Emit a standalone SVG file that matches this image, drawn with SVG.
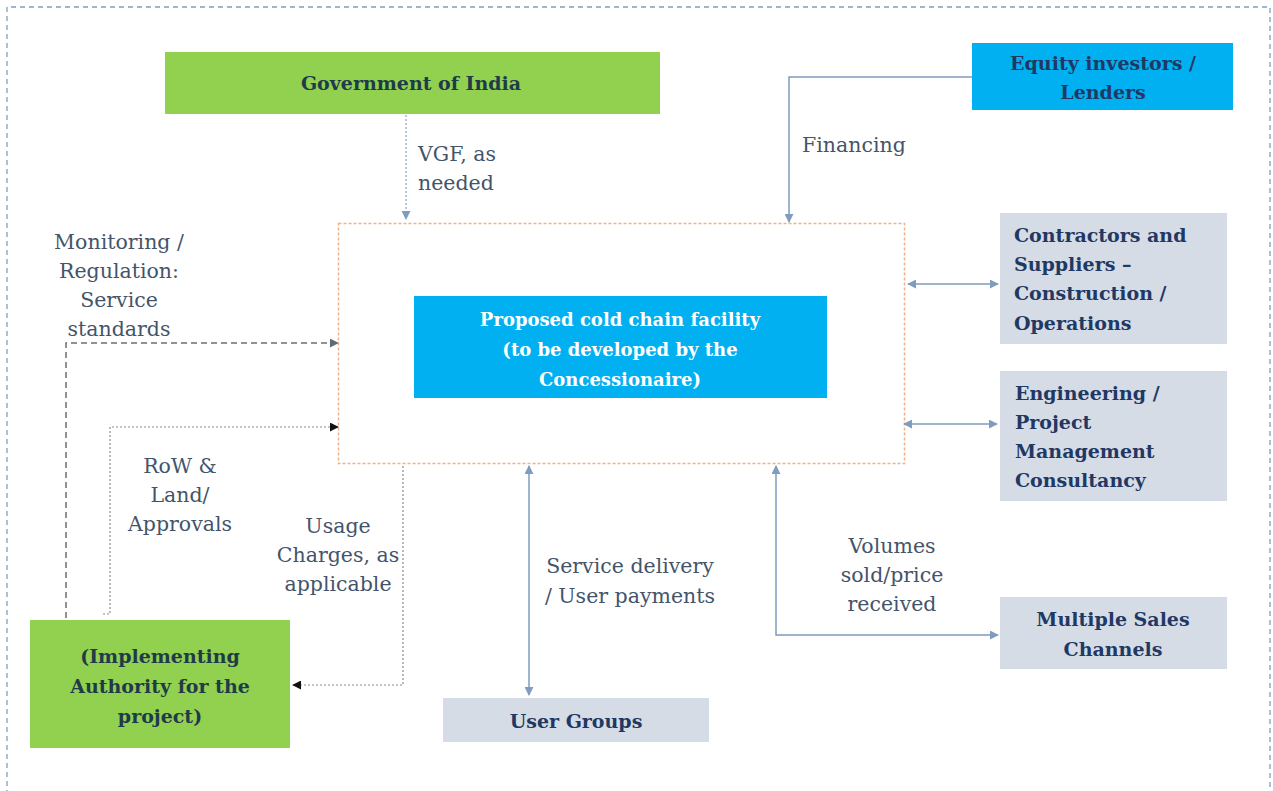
<svg xmlns="http://www.w3.org/2000/svg" width="1273" height="791" viewBox="0 0 1273 791">
  <style>
    .node-text { font-family: "DejaVu Serif", "Liberation Serif", serif; font-weight: bold; font-size: 19px; fill: #1f3864; }
    .green-text { fill: #1f3b4a; }
    .white-text { fill: #ffffff; font-size: 18px; }
    .label { font-family: "DejaVu Serif", "Liberation Serif", serif; font-size: 20.5px; fill: #44546a; }
    .green { fill: #92d050; }
    .blue { fill: #00b0f0; }
    .grey { fill: #d6dce5; }
    .link { fill: none; stroke: #7f9bbd; stroke-width: 1.5; }
    .link-dot { fill: none; stroke: #9fb4cf; stroke-width: 1.5; stroke-dasharray: 2,2; }
    .link-dash { fill: none; stroke: #6e6e6e; stroke-width: 1.5; stroke-dasharray: 6,4; }
    .link-fine { fill: none; stroke: #8a8a8a; stroke-width: 1.2; stroke-dasharray: 2,2; }
  </style>
  <defs>
    <marker id="arrowBlue" viewBox="0 0 10 10" refX="9" refY="5" markerWidth="9" markerHeight="9" orient="auto-start-reverse" markerUnits="userSpaceOnUse">
      <path d="M0,0 L10,5 L0,10 z" fill="#7f9bbd"/>
    </marker>
    <marker id="arrowGrey" viewBox="0 0 10 10" refX="9" refY="5" markerWidth="9" markerHeight="9" orient="auto" markerUnits="userSpaceOnUse">
      <path d="M0,0 L10,5 L0,10 z" fill="#5f6b78"/>
    </marker>
    <marker id="arrowBlack" viewBox="0 0 10 10" refX="9" refY="5" markerWidth="9" markerHeight="9" orient="auto" markerUnits="userSpaceOnUse">
      <path d="M0,0 L10,5 L0,10 z" fill="#111111"/>
    </marker>
  </defs>

  <rect width="1273" height="791" fill="#ffffff"/>

  <!-- outer frame -->
  <path d="M7,795 V7 H1270 V795" fill="none" stroke="#7f9fc4" stroke-width="1.3" stroke-dasharray="5,4"/>

  <!-- project boundary -->
  <rect x="338.5" y="223.5" width="566" height="240" fill="none" stroke="#f0b08a" stroke-width="1.5" stroke-dasharray="3,2"/>

  <g id="connectors">
    <!-- VGF -->
    <path class="link-dot" d="M406,115 V219" marker-end="url(#arrowBlue)"/>
    <!-- Financing -->
    <path class="link" d="M972,77 H789 V222" marker-end="url(#arrowBlue)"/>
    <!-- Contractors -->
    <path class="link" d="M908,284 H998" marker-start="url(#arrowBlue)" marker-end="url(#arrowBlue)"/>
    <!-- Engineering -->
    <path class="link" d="M904,424 H997" marker-start="url(#arrowBlue)" marker-end="url(#arrowBlue)"/>
    <!-- Service delivery -->
    <path class="link" d="M529,466 V695" marker-start="url(#arrowBlue)" marker-end="url(#arrowBlue)"/>
    <!-- Volumes -->
    <path class="link" d="M776,466 V635 H998" marker-start="url(#arrowBlue)" marker-end="url(#arrowBlue)"/>
    <!-- Monitoring -->
    <path class="link-dash" d="M66,618 V343 H338" marker-end="url(#arrowGrey)"/>
    <!-- RoW -->
    <path class="link-fine" d="M103,614 H110 V427 H338" marker-end="url(#arrowBlack)"/>
    <!-- Usage charges -->
    <path class="link-fine" d="M403,466 V685 H293" marker-end="url(#arrowBlack)"/>

    <text class="label" x="418" y="161">VGF, as</text>
    <text class="label" x="418" y="190">needed</text>
    <text class="label" x="802" y="152">Financing</text>
    <g text-anchor="middle">
      <text class="label" x="119" y="249">Monitoring /</text>
      <text class="label" x="119" y="278">Regulation:</text>
      <text class="label" x="119" y="307">Service</text>
      <text class="label" x="119" y="336">standards</text>
      <text class="label" x="180" y="473">RoW &amp;</text>
      <text class="label" x="180" y="502">Land/</text>
      <text class="label" x="180" y="531">Approvals</text>
      <text class="label" x="338" y="533">Usage</text>
      <text class="label" x="338" y="562">Charges, as</text>
      <text class="label" x="338" y="591">applicable</text>
      <text class="label" x="630" y="573">Service delivery</text>
      <text class="label" x="630" y="603">/ User payments</text>
      <text class="label" x="892" y="553">Volumes</text>
      <text class="label" x="892" y="582">sold/price</text>
      <text class="label" x="892" y="611">received</text>
    </g>
  </g>

  <g id="government">
    <rect class="green" x="165" y="52" width="495" height="62"/>
    <text class="node-text green-text" x="411" y="90" text-anchor="middle" font-size="20">Government  of India</text>
  </g>

  <g id="investors">
    <rect class="blue" x="972" y="43" width="261" height="67"/>
    <text class="node-text" x="1103" y="70" text-anchor="middle">Equity investors  /</text>
    <text class="node-text" x="1103" y="99" text-anchor="middle">Lenders</text>
  </g>

  <g id="facility">
    <rect class="blue" x="414" y="296" width="413" height="102"/>
    <text class="node-text white-text" x="620" y="326" text-anchor="middle">Proposed cold chain facility</text>
    <text class="node-text white-text" x="620" y="356" text-anchor="middle">(to be developed by the</text>
    <text class="node-text white-text" x="620" y="386" text-anchor="middle">Concessionaire)</text>
  </g>

  <g id="contractors">
    <rect class="grey" x="1000" y="213" width="227" height="131"/>
    <text class="node-text" x="1014" y="242">Contractors and</text>
    <text class="node-text" x="1014" y="271">Suppliers –</text>
    <text class="node-text" x="1014" y="300">Construction /</text>
    <text class="node-text" x="1014" y="330">Operations</text>
  </g>

  <g id="engineering">
    <rect class="grey" x="1000" y="371" width="227" height="130"/>
    <text class="node-text" x="1015" y="400">Engineering /</text>
    <text class="node-text" x="1015" y="429">Project</text>
    <text class="node-text" x="1015" y="458">Management</text>
    <text class="node-text" x="1015" y="487">Consultancy</text>
  </g>

  <g id="sales">
    <rect class="grey" x="1000" y="597" width="227" height="72"/>
    <text class="node-text" x="1113" y="626" text-anchor="middle">Multiple Sales</text>
    <text class="node-text" x="1113" y="656" text-anchor="middle">Channels</text>
  </g>

  <g id="users">
    <rect class="grey" x="443" y="698" width="266" height="44"/>
    <text class="node-text" x="576" y="728" text-anchor="middle">User Groups</text>
  </g>

  <g id="authority">
    <rect class="green" x="30" y="620" width="260" height="128"/>
    <text class="node-text green-text" x="160" y="663" text-anchor="middle">(Implementing</text>
    <text class="node-text green-text" x="160" y="693" text-anchor="middle">Authority for the</text>
    <text class="node-text green-text" x="160" y="723" text-anchor="middle">project)</text>
  </g>
</svg>
